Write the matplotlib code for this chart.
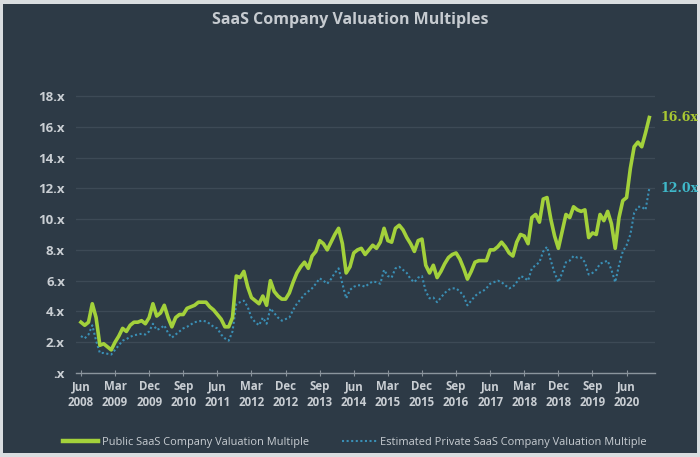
import matplotlib
matplotlib.use("Agg")
import matplotlib.pyplot as plt
from matplotlib.patches import Rectangle

# ---- data (monthly, Jun 2008 .. Dec 2020) ----
public_multiple = [
    3.3, 3.1, 3.3, 4.5, 3.6, 1.8, 1.9, 1.7, 1.5, 2.0,
    2.4, 2.9, 2.7, 3.1, 3.3, 3.3, 3.4, 3.2, 3.6, 4.5,
    3.7, 3.9, 4.4, 3.6, 3.0, 3.6, 3.8, 3.8, 4.2, 4.3,
    4.4, 4.6, 4.6, 4.6, 4.3, 4.1, 3.8, 3.5, 3.0, 3.0,
    3.6, 6.3, 6.2, 6.6, 5.6, 4.9, 4.7, 4.5, 5.0, 4.4,
    6.0, 5.3, 5.0, 4.8, 4.8, 5.2, 5.9, 6.5, 6.9, 7.2,
    6.8, 7.6, 7.9, 8.6, 8.4, 8.0, 8.5, 9.0, 9.4, 8.4,
    6.5, 6.9, 7.8, 8.0, 8.1, 7.7, 8.0, 8.3, 8.1, 8.5,
    9.4, 8.6, 8.5, 9.4, 9.6, 9.3, 8.8, 8.4, 7.9, 8.6,
    8.7, 7.0, 6.5, 7.0, 6.2, 6.6, 7.1, 7.5, 7.7, 7.8,
    7.4, 6.8, 6.1, 6.6, 7.2, 7.3, 7.3, 7.3, 8.0, 8.0,
    8.2, 8.5, 8.2, 7.8, 7.6, 8.5, 9.0, 8.9, 8.4, 10.1,
    10.3, 9.8, 11.3, 11.4, 10.0, 8.9, 8.1, 9.2, 10.3, 10.1,
    10.8, 10.6, 10.5, 10.6, 8.8, 9.1, 9.0, 10.3, 9.9, 10.5,
    9.7, 8.1, 10.1, 11.2, 11.4, 13.3, 14.7, 15.0, 14.7, 15.6,
    16.6,
]
private_multiple = [
    2.4, 2.25, 2.5, 3.1, 2.1, 1.3, 1.3, 1.25, 1.2, 1.5,
    1.8, 2.1, 2.2, 2.35, 2.45, 2.5, 2.55, 2.5, 2.7, 3.2,
    2.8, 2.9, 3.1, 2.6, 2.3, 2.5, 2.7, 2.9, 3.0, 3.15,
    3.3, 3.35, 3.4, 3.35, 3.2, 3.0, 2.9, 2.5, 2.25, 2.1,
    2.7, 4.5, 4.6, 4.7, 4.3, 3.6, 3.3, 3.1, 3.6, 3.2,
    4.2, 3.9, 3.6, 3.4, 3.5, 3.6, 4.1, 4.5, 4.8, 5.1,
    5.3, 5.5, 5.8, 6.15, 6.0, 5.8, 6.1, 6.5, 6.8, 5.8,
    4.85, 5.4, 5.6, 5.7, 5.7, 5.6, 5.8, 5.95, 5.9, 5.8,
    6.7, 6.3, 6.2, 6.8, 6.9, 6.7, 6.5, 6.1, 5.9, 6.2,
    6.3, 5.3, 4.85, 4.9, 4.6, 4.9, 5.2, 5.4, 5.5, 5.5,
    5.3, 5.0, 4.4, 4.7, 5.0, 5.2, 5.3, 5.5, 5.8, 5.9,
    6.0, 5.9, 5.7, 5.5, 5.6, 5.9, 6.3, 6.2, 6.0, 6.8,
    7.0, 7.2, 7.9, 8.2, 7.3, 6.5, 5.9, 6.5, 7.2, 7.3,
    7.6, 7.5, 7.5, 7.2, 6.4, 6.5, 6.7, 7.1, 7.2, 7.3,
    6.7, 5.9, 7.0, 7.9, 8.3, 9.0, 10.4, 10.8, 10.8, 10.6,
    12.0,
]
months = list(range(len(public_multiple)))

tick_months = [0, 9, 18, 27, 36, 45, 54, 63, 72, 81, 90, 99, 108, 117, 126, 135, 144]
tick_labels = ["Jun\n2008", "Mar\n2009", "Dec\n2009", "Sep\n2010", "Jun\n2011",
               "Mar\n2012", "Dec\n2012", "Sep\n2013", "Jun\n2014", "Mar\n2015",
               "Dec\n2015", "Sep\n2016", "Jun\n2017", "Mar\n2018", "Dec\n2018",
               "Sep\n2019", "Jun\n2020"]
y_ticks = [0, 2, 4, 6, 8, 10, 12, 14, 16, 18]
y_labels = [".x", "2.x", "4.x", "6.x", "8.x", "10.x", "12.x", "14.x", "16.x", "18.x"]

series_names = ["Public SaaS Company Valuation Multiple",
                "Estimated Private SaaS Company Valuation Multiple"]
end_labels = ["16.6x", "12.0x"]

# ---- style ----
BG = "#2d3a46"
GRID = "#3d4a56"
TXT = "#c9ced3"
GREEN = "#a3d13b"
BLUE = "#3a8fb5"
TEAL = "#3fb8c9"
LABEL_GREEN = "#a9c832"

W, H = 700, 457
fig = plt.figure(figsize=(W / 100, H / 100), dpi=100)
fig.patch.set_facecolor("#d9dde0")
fig.patches.append(Rectangle((3 / W, 4 / H), (697 - 3) / W, (453 - 4) / H,
                             transform=fig.transFigure, facecolor=BG,
                             edgecolor="none", zorder=-10))

left, right = 76 / W, 655 / W
bottom, top = (H - 373) / H, (H - 89.8) / H
ax = fig.add_axes([left, bottom, right - left, top - bottom])
ax.set_zorder(5)
ax.set_facecolor("none")

ax.plot(months, public_multiple, color=GREEN, lw=2.6, solid_joinstyle="round",
        label=series_names[0], zorder=3)
ax.plot(months, private_multiple, color=BLUE, lw=1.5, linestyle=(0, (1, 1.2)),
        label=series_names[1], zorder=2)

ax.set_xlim(-1.3, 151.5)
ax.set_ylim(0, 18.4)

ax.set_yticks(y_ticks)
ax.set_yticklabels(y_labels)
ax.set_xticks(tick_months)
ax.set_xticklabels(tick_labels)

for s in ["top", "right", "left"]:
    ax.spines[s].set_visible(False)
ax.spines["bottom"].set_color("#8b959d")
ax.spines["bottom"].set_linewidth(1.0)

ax.grid(axis="y", color=GRID, lw=0.9)
ax.set_axisbelow(True)
ax.tick_params(axis="y", length=0, pad=8, labelcolor=TXT, labelsize=9.5)
ax.tick_params(axis="x", length=4, direction="inout", color="#8b959d",
               pad=3, labelcolor=TXT, labelsize=8.3)
for lab in ax.get_yticklabels() + ax.get_xticklabels():
    lab.set_fontweight("bold")
    lab.set_fontfamily("Open Sans")
for lab in ax.get_xticklabels():
    lab.set_linespacing(1.35)

# end labels
ax.annotate(end_labels[0], xy=(months[-1], public_multiple[-1]), xytext=(8, 0),
            textcoords="offset points", va="center", ha="left", color=LABEL_GREEN,
            fontsize=9, fontweight="bold", family="DejaVu Serif", annotation_clip=False)
ax.annotate(end_labels[1], xy=(months[-1], private_multiple[-1]), xytext=(8, 0),
            textcoords="offset points", va="center", ha="left", color=TEAL,
            fontsize=9, fontweight="bold", family="DejaVu Serif", annotation_clip=False)

fig.text(0.5, 1 - 20 / H, "SaaS Company Valuation Multiples", ha="center",
         va="center", color="#c6cbd0", fontsize=11.5, fontweight="bold",
         family="Open Sans")

leg = fig.legend(loc="center", bbox_to_anchor=(0.507, 1 - 442 / H), ncol=2,
                 frameon=False, labelcolor=TXT,
                 handlelength=3.2, handletextpad=0.3, columnspacing=3.0,
                 prop={"family": "Open Sans", "size": 7.9})
leg.get_lines()[0].set_linewidth(3.2)

fig.savefig("out.png", dpi=100, facecolor=fig.get_facecolor())
